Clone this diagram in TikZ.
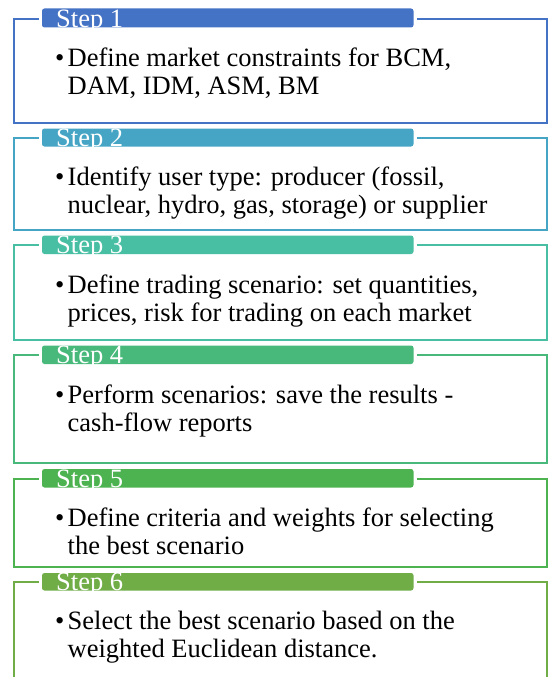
\documentclass[tikz,border=0pt]{standalone}
\usepackage{fontspec}
\setmainfont{Liberation Serif}
\definecolor{cA}{HTML}{4472C4}
\definecolor{cB}{HTML}{46A5C5}
\definecolor{cC}{HTML}{48BEA3}
\definecolor{cD}{HTML}{48B97A}
\definecolor{cE}{HTML}{4CB350}
\definecolor{cF}{HTML}{70AD47}
\newcommand\stepblock[8]{%
  \draw[stepbox,draw=#1] (13.5,#2) rectangle (546.5,#3);
  \fill[white] (38.5,#4-0.5) rectangle (417,#5+0.5);
  \fill[headbar,#1] (42,#4) rectangle (413.5,#5);
  \node[headtext] (h#6) at (56,#5-0.3) {Step #6};
  \node[bodytext] (d#6) at (55,#5+39) {•};
  \node[bodytext] (t#6) at (67.5,#5+39) {\parbox[t]{470pt}{#7\\#8}};
}
\begin{document}
\begin{tikzpicture}[x=1pt,y=-1pt,
  stepbox/.style={line width=2pt},
  headbar/.style={rounded corners=2.5pt},
  headtext/.style={anchor=base west, inner sep=0pt, text=white, font=\fontsize{26.5}{28}\selectfont},
  bodytext/.style={anchor=base west, inner sep=0pt, text=black, font=\fontsize{26.5}{28}\selectfont}]
\useasboundingbox (0,0) rectangle (550,677);
\clip (0,0) rectangle (550,677);
\stepblock{cA}{19}{122.5}{8.5}{27.5}{1}{Define market constraints for BCM,}{DAM, IDM, ASM, BM}
\stepblock{cB}{137.5}{229.5}{128.5}{146.5}{2}{Identify user type: producer (fossil,}{nuclear, hydro, gas, storage) or supplier}
\stepblock{cC}{244.5}{339.5}{235.5}{254}{3}{Define trading scenario: set quantities,}{prices, risk for trading on each market}
\stepblock{cD}{355}{462.5}{345.5}{364}{4}{Perform scenarios: save the results -}{cash-flow reports}
\stepblock{cE}{478.5}{566.5}{469}{487.5}{5}{Define criteria and weights for selecting}{the best scenario}
\stepblock{cF}{582}{700}{573}{590.5}{6}{Select the best scenario based on the}{weighted Euclidean distance.}
\end{tikzpicture}
\end{document}
